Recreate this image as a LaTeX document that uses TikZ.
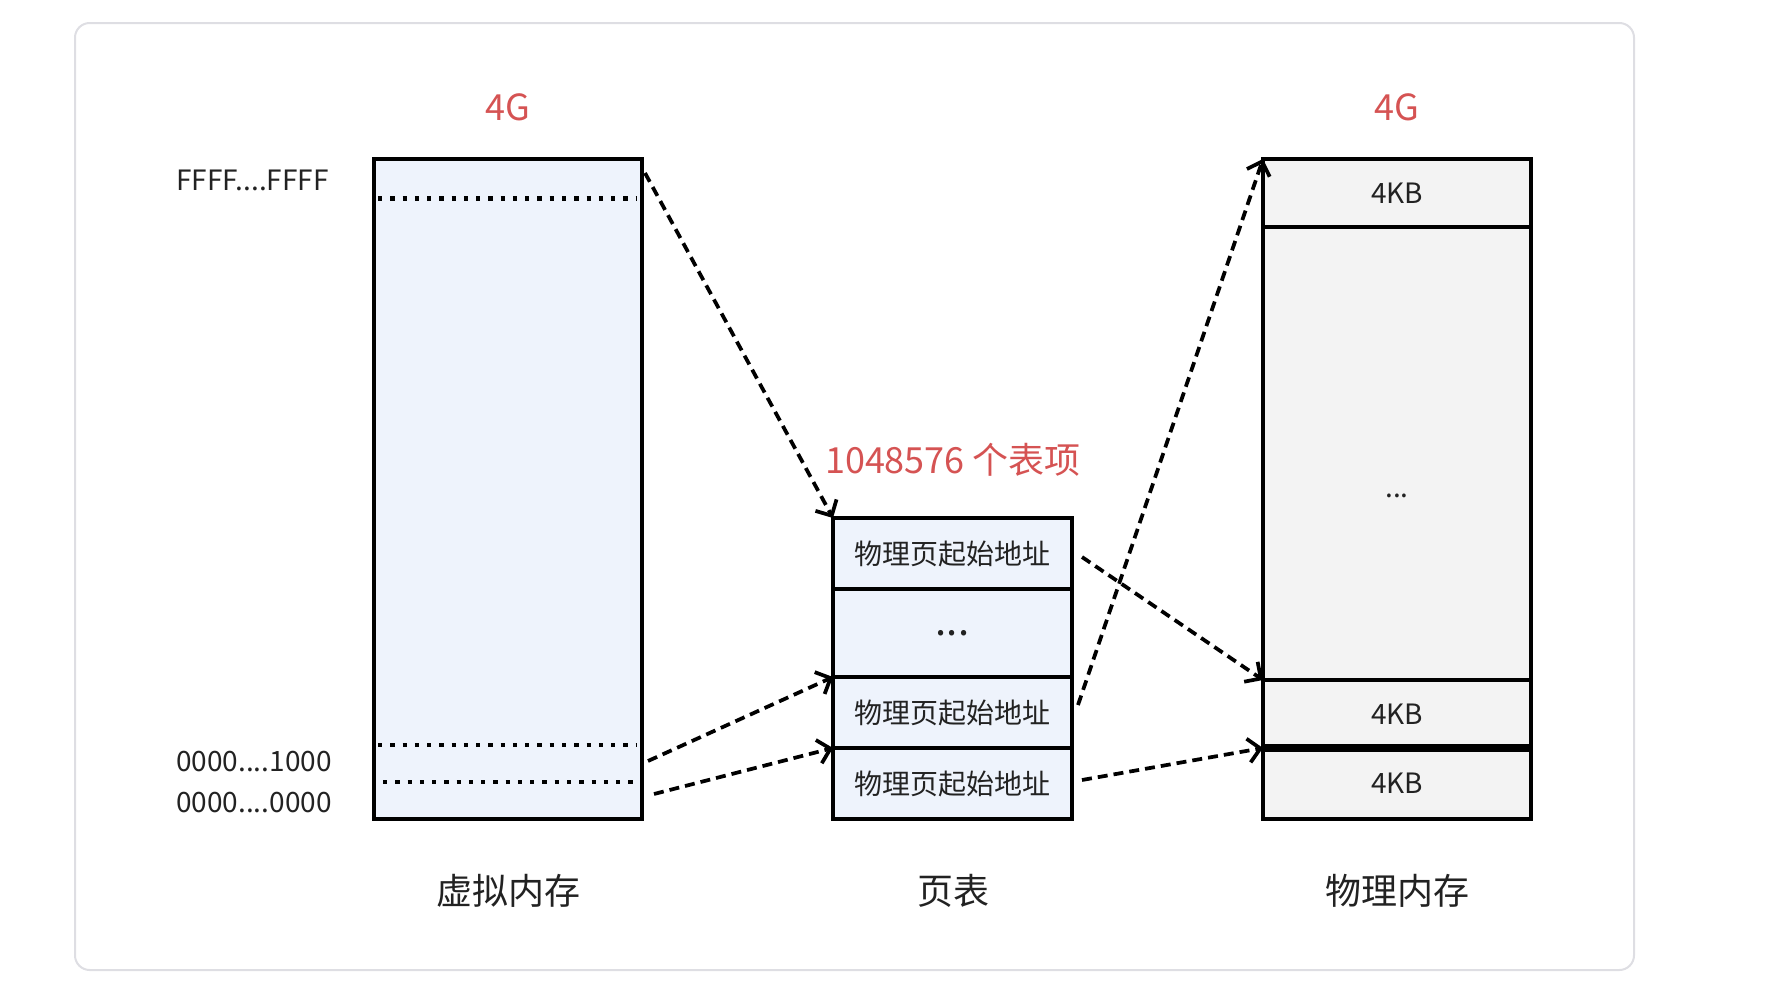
\documentclass[tikz,border=0pt]{standalone}
\usepackage{fontspec}
\setmainfont{Noto Sans CJK SC}
\usetikzlibrary{arrows.meta}
\definecolor{redtxt}{HTML}{D55353}
\definecolor{bluefill}{HTML}{EEF3FC}
\definecolor{grayfill}{HTML}{F3F3F3}
\definecolor{framec}{HTML}{DEDEE3}
\definecolor{txt}{HTML}{222222}
\begin{document}
\begin{tikzpicture}[x=0.75pt,y=-0.75pt,
  cell/.style={draw=black, line width=2.7pt, inner sep=0pt, outer sep=0pt, anchor=north west, text=txt, font=\fontsize{21pt}{25pt}\selectfont},
  vcell/.style={cell, fill=bluefill},
  pcell/.style={cell, fill=grayfill},
  redlbl/.style={text=redtxt, font=\fontsize{27pt}{32pt}\selectfont},
  caption/.style={text=txt, font=\fontsize{27pt}{32pt}\selectfont},
  addr/.style={text=txt, anchor=west, inner sep=0pt, font=\fontsize{21pt}{25pt}\selectfont},
  dotline/.style={line width=3.2pt, dash pattern=on 3.2pt off 6pt},
  link/.style={line width=2.8pt, dash pattern=on 7.5pt off 4.5pt, -{Straight Barb[length=9pt,width=18pt]}}
]
\useasboundingbox (0,0) rectangle (1768,1004);
\draw[rounded corners=11pt, draw=framec, line width=1.5pt] (75,23) rectangle (1634,970);

% virtual memory
\node[vcell, minimum width=201pt, minimum height=495pt] (vm) at (374,159) {};
\draw[dotline] (378,198.5) -- (636,198.5);
\draw[dotline] (378,745) -- (636,745);
\draw[dotline] (383,782) -- (638,782);
\node[redlbl] (vg) at (508,107) {4G};
\node[addr] (af) at (176,180) {FFFF....FFFF};
\node[addr] (a1000) at (176,762) {0000....1000};
\node[addr] (a0000) at (176,803) {0000....0000};
\node[caption] (vcap) at (508,891) {虚拟内存};

% page table
\node[vcell, minimum width=179.25pt, minimum height=53.25pt] (pt1) at (833,518) {物理页起始地址};
\node[vcell, minimum width=179.25pt, minimum height=66pt, font=\fontsize{30pt}{30pt}\selectfont] (pt2) at (833,589) {...};
\node[vcell, minimum width=179.25pt, minimum height=53.25pt] (pt3) at (833,677) {物理页起始地址};
\node[vcell, minimum width=179.25pt, minimum height=53.25pt] (pt4) at (833,748) {物理页起始地址};
\node[redlbl] (ptn) at (953,460) {1048576 个表项};
\node[caption] (ptcap) at (953,891) {页表};

% physical memory
\node[pcell, minimum width=201pt, minimum height=51pt] (pm1) at (1263,159) {4KB};
\node[pcell, minimum width=201pt, minimum height=339.75pt] (pm2) at (1263,227) {};
\node[pcell, minimum width=201pt, minimum height=51pt] (pm3) at (1263,680) {4KB};
\node[pcell, minimum width=201pt, minimum height=53.25pt] (pm4) at (1263,748) {4KB};
\draw[line width=5.5pt] (pm4.north west) -- (pm4.north east);
\node[text=txt, font=\fontsize{21pt}{25pt}\selectfont] (pmdots) at (1397,496) {...};
\node[redlbl] (pg) at (1397,107) {4G};
\node[caption] (pcap) at (1397,891) {物理内存};

% connectors
\coordinate (s1) at (645,173);
\coordinate (s2) at (648,761);
\coordinate (s3) at (654,794);
\coordinate (s4) at (1082,557);
\coordinate (s5) at (1078,705);
\coordinate (s6) at (1082,780);
\draw[link] (s1) -- (pt1.north west);
\draw[link] (s2) -- (pt3.north west);
\draw[link] (s3) -- (pt4.north west);
\draw[link] (s4) -- (pm3.north west);
\draw[link] (s5) -- (pm1.north west);
\draw[link] (s6) -- (pm4.north west);
\end{tikzpicture}
\end{document}
